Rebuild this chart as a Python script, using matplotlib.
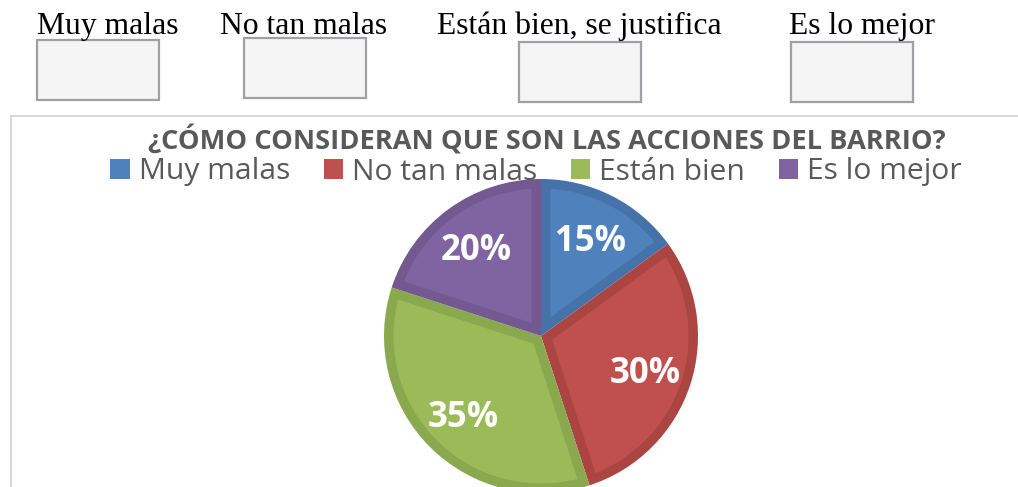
import numpy as np
import matplotlib.pyplot as plt
from matplotlib.patches import Rectangle, Patch, Polygon

# data
categories = ["Muy malas", "No tan malas", "Están bien", "Es lo mejor"]
values = [15, 30, 35, 20]
options = ["Muy malas", "No tan malas", "Están bien, se justifica", "Es lo mejor"]
title = "¿CÓMO CONSIDERAN QUE SON LAS ACCIONES DEL BARRIO?"

colors = ["#4f81bd", "#c0504d", "#9bbb59", "#8064a2"]
edges = ["#4572a9", "#ab4542", "#8aa84e", "#725a91"]

W, H = 1018, 487
fig = plt.figure(figsize=(W / 100, H / 100), dpi=100)


def fx(x):
    return x / W


def fy(y):
    return 1 - y / H


# answer options with empty boxes above the chart
opt_x = [37, 220, 437, 789]
box_xy = [(37, 40), (244, 38), (519, 42), (791, 42)]
for txt, x in zip(options, opt_x):
    fig.text(fx(x), fy(34), txt, family="Liberation Serif", fontsize=22.8,
             color="black", ha="left", va="baseline")
for bx, by in box_xy:
    fig.patches.append(Rectangle((fx(bx), fy(by + 60)), 122 / W, 60 / H,
                                 transform=fig.transFigure, facecolor="#f5f5f5",
                                 edgecolor="#a0a0a4", lw=1.6))

# chart frame
fig.patches.append(Rectangle((fx(11), fy(600)), 1200 / W, (600 - 116) / H,
                             transform=fig.transFigure, fill=False,
                             edgecolor="#d9d9d9", lw=1.5))

fig.text(fx(547), fy(150), title, family="Open Sans", weight="bold",
         fontsize=19.6, color="#595959", ha="center", va="baseline")

# pie
cx, cy, r = 541, 336, 157
ax = fig.add_axes([fx(cx - r), fy(cy + r), 2 * r / W, 2 * r / H])
wedges, texts, autotexts = ax.pie(values, colors=edges, startangle=90,
                                  counterclock=False, autopct="%d%%",
                                  pctdistance=0.7, radius=1,
                                  wedgeprops=dict(linewidth=0))

# lighter inner part of each slice -> darker border inside the slice
d = 9.5 / r
for w, c in zip(wedges, colors):
    t1, t2 = np.radians(w.theta1), np.radians(w.theta2)
    half = (t2 - t1) / 2
    mid = t1 + half
    v = d / np.sin(half)
    off = np.arcsin(d / (1 - d))
    ang = np.linspace(t1 + off, t2 - off, 80)
    pts = [(v * np.cos(mid), v * np.sin(mid))]
    pts += list(zip((1 - d) * np.cos(ang), (1 - d) * np.sin(ang)))
    ax.add_patch(Polygon(pts, closed=True, facecolor=c, edgecolor="none", zorder=1.5))

for t in autotexts:
    t.set_color("white")
    t.set_fontsize(25)
    t.set_fontweight("bold")
    t.set_family("Open Sans")
    t.set_zorder(3)
    x, y = t.get_position()
    t.set_position((x, y - 0.025))
ax.set_xlim(-1, 1)
ax.set_ylim(-1, 1)
ax.axis("off")

handles = [Patch(facecolor=c, edgecolor="none") for c in colors]
leg = fig.legend(handles, categories, ncol=4, loc="center",
                 bbox_to_anchor=(fx(536), fy(172)), frameon=False,
                 prop=dict(family="Open Sans", size=21.6),
                 handlelength=0.65, handleheight=0.65, handletextpad=0.3,
                 columnspacing=1.12, borderpad=0)
for t in leg.get_texts():
    t.set_color("#595959")

fig.savefig("out.png", dpi=100)
